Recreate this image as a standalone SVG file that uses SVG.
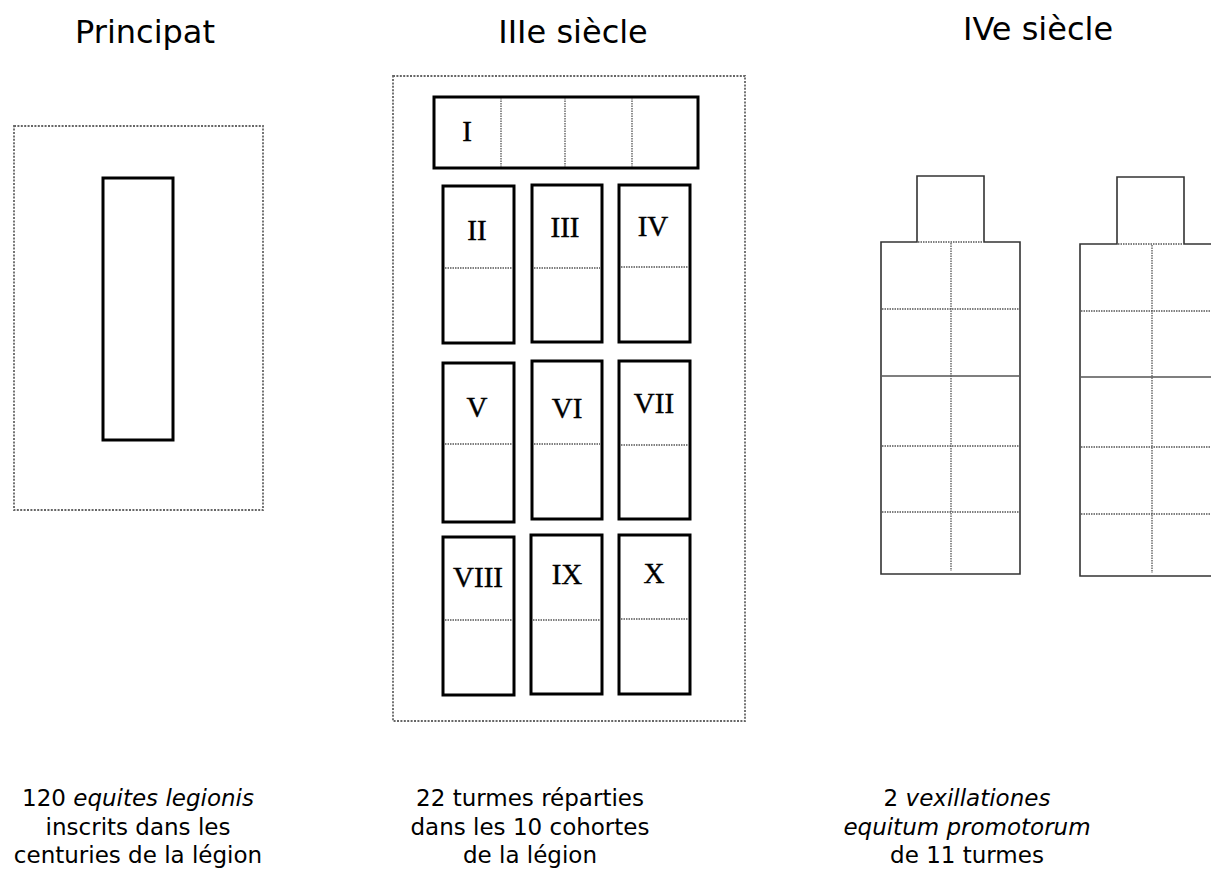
<svg xmlns="http://www.w3.org/2000/svg" width="1211" height="870" viewBox="0 0 1211 870">
<style>
.title{font-family:"DejaVu Sans",sans-serif;font-size:32px;fill:#000;text-anchor:middle}
.cap{font-family:"DejaVu Sans",sans-serif;font-size:23px;fill:#000;text-anchor:middle}
.num{font-family:"Liberation Serif",serif;font-size:29px;fill:#000;stroke:#000;stroke-width:0.4;text-anchor:middle}
.frame{fill:none;stroke:#666;stroke-width:1.8;stroke-dasharray:2,1.4}
.box{fill:#fff;stroke:#000;stroke-width:3}
.div{fill:none;stroke:#555;stroke-width:1.3;stroke-dasharray:1.5,1}
.unit{fill:#fff;stroke:#333;stroke-width:1.6}
.sol{fill:none;stroke:#555;stroke-width:1.3}
</style>
<rect width="1211" height="870" fill="#fff"/>
<g id="principat">
<text class="title" x="145" y="43">Principat</text>
<rect class="frame" x="14" y="126" width="249" height="384"/>
<rect class="box" x="103" y="178" width="70" height="262"/>
<text class="cap" x="138" y="806">120 <tspan font-style="italic">equites legionis</tspan></text>
<text class="cap" x="138" y="835">inscrits dans les</text>
<text class="cap" x="138" y="863">centuries de la légion</text>
</g>
<g id="siecle3">
<text class="title" x="573" y="43">IIIe siècle</text>
<rect class="frame" x="393" y="76" width="352" height="645"/>
<g id="cohorte1">
<rect class="box" x="434" y="97" width="264" height="71"/>
<line class="div" x1="501" y1="98" x2="501" y2="167"/>
<line class="div" x1="565" y1="98" x2="565" y2="167"/>
<line class="div" x1="632" y1="98" x2="632" y2="167"/>
<text class="num" x="467" y="141">I</text>
</g>
<g id="cohorte2"><rect class="box" x="443" y="186" width="71" height="157"/><line class="div" x1="445" y1="268" x2="512" y2="268"/><text class="num" x="477" y="240">II</text></g>
<g id="cohorte3"><rect class="box" x="532" y="185" width="70" height="157"/><line class="div" x1="534" y1="268" x2="600" y2="268"/><text class="num" x="565" y="237">III</text></g>
<g id="cohorte4"><rect class="box" x="619" y="185" width="71" height="157"/><line class="div" x1="621" y1="267" x2="688" y2="267"/><text class="num" x="653" y="236">IV</text></g>
<g id="cohorte5"><rect class="box" x="443" y="363" width="71" height="159"/><line class="div" x1="445" y1="444" x2="512" y2="444"/><text class="num" x="477" y="417">V</text></g>
<g id="cohorte6"><rect class="box" x="532" y="361" width="70" height="158"/><line class="div" x1="534" y1="444" x2="600" y2="444"/><text class="num" x="567" y="418">VI</text></g>
<g id="cohorte7"><rect class="box" x="619" y="361" width="71" height="158"/><line class="div" x1="621" y1="445" x2="688" y2="445"/><text class="num" x="654" y="413">VII</text></g>
<g id="cohorte8"><rect class="box" x="443" y="537" width="71" height="158"/><line class="div" x1="445" y1="620" x2="512" y2="620"/><text class="num" x="478" y="587">VIII</text></g>
<g id="cohorte9"><rect class="box" x="531" y="535" width="71" height="159"/><line class="div" x1="533" y1="620" x2="600" y2="620"/><text class="num" x="567" y="584">IX</text></g>
<g id="cohorte10"><rect class="box" x="619" y="535" width="71" height="159"/><line class="div" x1="621" y1="619" x2="688" y2="619"/><text class="num" x="654" y="583">X</text></g>
<text class="cap" x="530" y="806">22 turmes réparties</text>
<text class="cap" x="530" y="835">dans les 10 cohortes</text>
<text class="cap" x="530" y="863">de la légion</text>
</g>
<g id="siecle4">
<text class="title" x="1038" y="40">IVe siècle</text>
<g id="vexillatio1">
<path class="unit" d="M917,242 V176 H984 V242 H1020 V574 H881 V242 Z"/>
<line class="div" x1="918" y1="242" x2="983" y2="242"/>
<line class="div" x1="951" y1="243" x2="951" y2="571"/>
<line class="div" x1="882" y1="309" x2="1019" y2="309"/>
<line class="sol" x1="882" y1="376" x2="1019" y2="376"/>
<line class="div" x1="882" y1="446" x2="1019" y2="446"/>
<line class="div" x1="882" y1="512" x2="1019" y2="512"/>
</g>
<g id="vexillatio2">
<path class="unit" d="M1117,244 V177 H1184 V244 H1219 V576 H1080 V244 Z"/>
<line class="div" x1="1118" y1="244" x2="1183" y2="244"/>
<line class="div" x1="1152" y1="245" x2="1152" y2="573"/>
<line class="div" x1="1081" y1="311" x2="1218" y2="311"/>
<line class="sol" x1="1081" y1="377" x2="1218" y2="377"/>
<line class="div" x1="1081" y1="447" x2="1218" y2="447"/>
<line class="div" x1="1081" y1="514" x2="1218" y2="514"/>
</g>
<text class="cap" x="967" y="806"><tspan>2 </tspan><tspan font-style="italic">vexillationes</tspan></text>
<text class="cap" x="967" y="835" font-style="italic">equitum promotorum</text>
<text class="cap" x="967" y="863">de 11 turmes</text>
</g>
</svg>
